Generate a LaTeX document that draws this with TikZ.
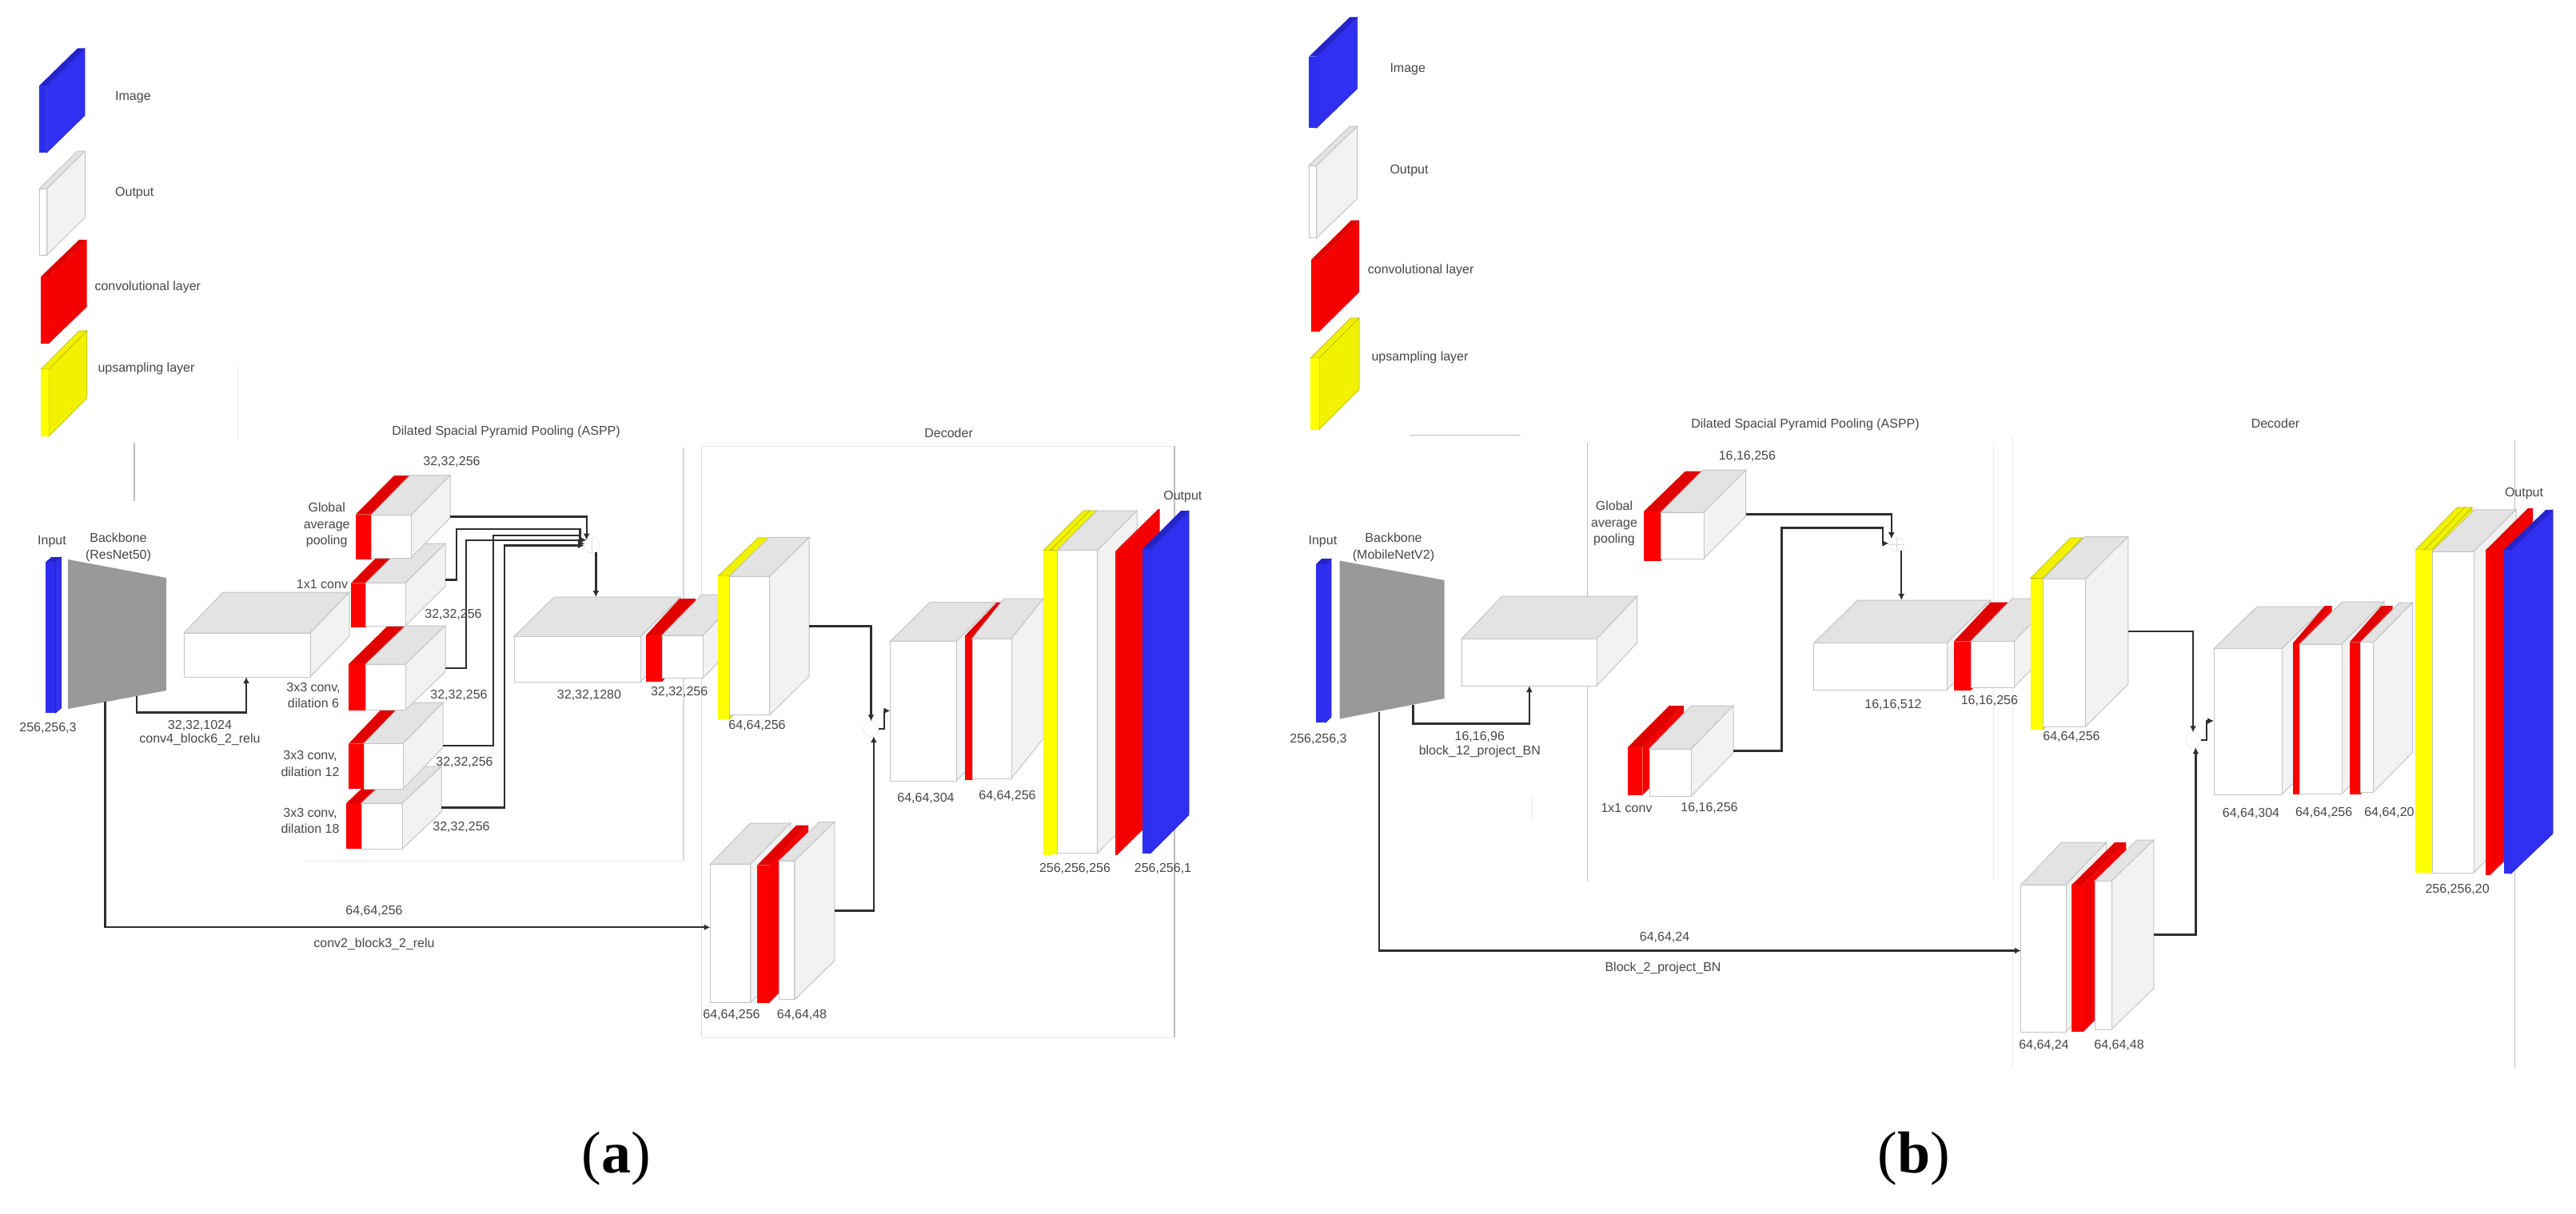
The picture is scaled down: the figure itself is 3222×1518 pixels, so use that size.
\documentclass[tikz,border=0pt]{standalone}
\usepackage{fontspec}
\setmainfont{Liberation Sans}
\newfontfamily\capfont{Liberation Serif}
\usepackage{xcolor}
\usetikzlibrary{arrows.meta,positioning}
\definecolor{gTop}{HTML}{E3E3E3}
\definecolor{gSide}{HTML}{F2F2F2}
\definecolor{gEdge}{HTML}{C4C4C4}
\definecolor{gLine}{HTML}{BDBDBD}
\definecolor{gBack}{HTML}{999999}
\definecolor{rFront}{HTML}{FF0000}
\definecolor{rSide}{HTML}{F40000}
\definecolor{rTop}{HTML}{E00000}
\definecolor{yFront}{HTML}{FFFF00}
\definecolor{ySide}{HTML}{F2F200}
\definecolor{bFront}{HTML}{2E2EF0}
\definecolor{bSide}{HTML}{3030F2}
\definecolor{bTop}{HTML}{2424C8}
\tikzset{
  boxfront/.style={fill=white, draw=gEdge, line width=1pt},
  boxtop/.style={fill=gTop, draw=gEdge, line width=1pt},
  boxside/.style={fill=gSide, draw=gEdge, line width=1pt},
  redfront/.style={fill=rFront},
  redtop/.style={fill=rTop},
  redside/.style={fill=rSide},
  yellowfront/.style={fill=yFront},
  yellowtop/.style={fill=ySide, draw=ySide!75!black, line width=.6pt},
  yellowside/.style={fill=ySide, draw=ySide!75!black, line width=.6pt},
  bluefront/.style={fill=bFront},
  bluetop/.style={fill=bTop},
  blueside/.style={fill=bSide, draw=bTop, line width=.8pt},
  area/.style={inner sep=0pt, outer sep=0pt, anchor=north west},
  lbl/.style={font=\fontsize{16}{20.5}\selectfont, text=black!72, align=center, inner sep=0pt},
  leglbl/.style={lbl, anchor=west, yshift=-2pt},
  sumnode/.style={circle, draw=gray!30, fill=white, minimum size=19pt, inner sep=0pt},
  link/.style={line width=2.3pt, draw=black!82},
  arrow/.style={link, -{Latex[length=8pt,width=8pt]}},
  frameline/.style={line width=1.2pt, draw=gLine},
  fadeline/.style={line width=1pt, draw=gray!18},
  captxt/.style={font=\capfont\fontsize{74}{80}\selectfont, inner sep=0pt}
}
% name, x, y, width, height, dx, dy, kind
\newcommand{\layerblock}[8]{
  \path[#8top] (#2,#3) -- ++(#6,-#7) -- ++(#4,0) -- ++(-#6,#7) -- cycle;
  \path[#8side] (#2+#4,#3) -- ++(#6,-#7) -- ++(0,#5) -- ++(-#6,#7) -- cycle;
  \path[#8front] (#2,#3) rectangle ++(#4,#5);
  \node[area, minimum width={(#4+#6)*1pt}, minimum height={(#5+#7)*1pt}] (#1) at (#2,#3-#7) {};
}
\begin{document}
\begin{tikzpicture}[x=1pt,y=-1pt]
  \useasboundingbox (0,0) rectangle (3222,1518);
  \fill[white] (0,0) rectangle (3222,1518);

  % (a) frame lines
  \coordinate (fa1) at (168,554); \coordinate (fa2) at (168,627);
  \draw[fadeline] (297.5,459) -- (297.5,551);
  \draw[frameline] (fa1) -- (fa2);
  \draw[fadeline] (379,1077) -- (855,1077);
  \draw[frameline, draw=gray!30] (855,560) -- (855,1077);
  \draw[frameline, draw=gray!30] (877.5,558) -- (877.5,1298);
  \draw[fadeline] (877.5,558) -- (1469,558);
  \draw[fadeline] (877.5,1298) -- (1469,1298);
  \draw[frameline] (1469,558) -- (1469,1298);

  % (a) legend
  \layerblock{legImgA}{49.3}{107}{9}{84}{47.7}{46.6}{blue}
  \layerblock{legOutA}{49.3}{236}{9.5}{83}{47.7}{47}{box}
  \layerblock{legConvA}{51.3}{346}{9.7}{84}{47.7}{46}{red}
  \layerblock{legUpA}{51.3}{462}{9.7}{84}{47.7}{48}{yellow}
  \node[leglbl] (txtImgA) at (144,119.6) {Image};
  \node[leglbl] (txtOutA) at (144,239.6) {Output};
  \node[leglbl] (txtConvA) at (118.3,357) {convolutional layer};
  \node[leglbl] (txtUpA) at (122.3,459) {upsampling layer};

  % (a) backbone
  \layerblock{inA}{57.4}{703}{12}{189}{7}{6}{blue}
  \fill[gBack] (85,700) -- (208,723) -- (208,864) -- (85,887) -- cycle;
  \coordinate (tapA) at (171,871);
  \coordinate (skipA) at (131.5,878);
  \layerblock{cutA}{230}{792}{158}{55}{49}{51}{box}

  % (a) ASPP
  \layerblock{rD18A}{433}{1005}{19}{57}{49}{46}{red}
  \layerblock{d18A}{452}{1005}{51}{57}{49}{46}{box}
  \layerblock{rD12A}{436}{930.5}{19}{56.5}{49}{51.5}{red}
  \layerblock{d12A}{455}{930.5}{49}{56.5}{50}{51.5}{box}
  \layerblock{rD6A}{436}{831}{21.5}{57.5}{49}{48}{red}
  \layerblock{d6A}{457.5}{831}{49.5}{57.5}{50}{48}{box}
  \layerblock{rOneA}{439}{729.6}{18.5}{55.4}{49}{49.6}{red}
  \layerblock{oneA}{457.5}{729.6}{49.5}{53.4}{50}{49.6}{box}
  \layerblock{rGapA}{445}{643.5}{19}{56.5}{48}{48.5}{red}
  \layerblock{gapA}{464}{644.7}{50}{53.3}{49}{50}{box}
  \layerblock{concatA}{643}{796.6}{158}{56.4}{50}{49.6}{box}
  \layerblock{rOutA}{808}{795}{20}{58}{42}{46}{red}
  \layerblock{aspOutA}{828}{795}{51}{53.5}{50}{51}{box}
  \node[sumnode] (sumA) at (740.5,682.5) {};
  \draw[gray!30, line width=.8pt] (sumA.north) -- (sumA.south);

  % (a) decoder
  \layerblock{upOneA}{898}{721}{14.4}{178.5}{50}{48}{yellow}
  \layerblock{upBoxA}{912.4}{721}{50.3}{173.6}{49.5}{48.6}{box}
  \layerblock{lowA}{888.5}{1081}{50.3}{173.5}{50}{51}{box}
  \layerblock{rLowA}{947}{1082.6}{15}{172.4}{49}{50}{red}
  \layerblock{lowTwoA}{974.6}{1077}{19.2}{173.7}{50}{48.5}{box}
  \layerblock{catA}{1113.4}{802.4}{82.6}{174.6}{49.6}{48.7}{box}
  \layerblock{rCatA}{1207}{795.4}{9}{180.6}{40}{41.7}{red}
  \layerblock{catTwoA}{1216}{799}{49}{175}{40}{50}{box}
  \node[sumnode] (sumB) at (1089.5,912) {};
  \layerblock{upTwoA}{1305}{688.6}{9}{381.4}{50}{49.6}{yellow}
  \layerblock{upTwoBisA}{1314}{688.6}{8.5}{380}{49}{49.6}{yellow}
  \layerblock{finalA}{1322.5}{688.6}{50.2}{379}{49.3}{49.6}{box}
  \layerblock{rFinalA}{1395}{689.7}{2}{380.3}{53.7}{52.7}{red}
  \layerblock{blueOutA}{1429}{687}{10}{380.5}{48}{48}{blue}

  % (a) connectors
  \draw[arrow] (gapA.east) -| (sumA.135);
  \draw[arrow] ([yshift=6pt]oneA.east) -- ++(14,0) |- ([shift={(-15,-20.5)}]sumA.center) |- (sumA.165);
  \draw[arrow] (d6A.east) -- ++(26,0) |- (sumA.135);
  \draw[arrow] (d12A.east) -- ++(63,0) |- ([shift={(-15,-12.5)}]sumA.center) |- (sumA.165);
  \draw[arrow] (d18A.east) -- ++(79,0) |- (sumA.west);
  \draw[arrow] (sumA.-60) -- (sumA.-60 |- concatA.north);
  \draw[arrow] (tapA) |- ([shift={(-25.5,44.5)}]cutA.south) -- ([xshift=-25.5pt]cutA.south);
  \draw[arrow] (skipA) |- ([shift={(0,18)}]lowA.west);
  \draw[arrow] (upBoxA.east) -| (sumB.north);
  \draw[arrow] (lowTwoA.east) -| (sumB.-70);
  \draw[arrow] (sumB.east) -- ++(7,0) |- ([shift={(0,24)}]catA.west);

  % (a) labels
  \node[lbl] (inTxtA) at (65,678) {Input};
  \node[lbl] (backTxtA) at (148,685) {Backbone\\(ResNet50)};
  \node[lbl] (inDimA) at (60,910.6) {256,256,3};
  \node[lbl] (cutDimA) at (250,908) {32,32,1024};
  \node[lbl] (cutTxtA) at (250,925) {conv4\_block6\_2\_relu};
  \node[lbl] (asppTxtA) at (633,540) {Dilated Spacial Pyramid Pooling (ASPP)};
  \node[lbl] (gapDimA) at (565,577.7) {32,32,256};
  \node[lbl] (gapTxtA) at (408.7,657) {Global\\average\\pooling};
  \node[lbl] (oneTxtA) at (403,731.5) {1x1 conv};
  \node[lbl] (oneDimA) at (567,769) {32,32,256};
  \node[lbl] (d6TxtA) at (392,870) {3x3 conv,\\dilation 6};
  \node[lbl] (d6DimA) at (574,869.7) {32,32,256};
  \node[lbl] (d12TxtA) at (388,955.4) {3x3 conv,\\dilation 12};
  \node[lbl] (d12DimA) at (581,953.5) {32,32,256};
  \node[lbl] (d18TxtA) at (388,1027) {3x3 conv,\\dilation 18};
  \node[lbl] (d18DimA) at (577,1035) {32,32,256};
  \node[lbl] (concatDimA) at (737,869.7) {32,32,1280};
  \node[lbl] (aspOutDimA) at (849.6,866) {32,32,256};
  \node[lbl] (decTxtA) at (1186.6,542) {Decoder};
  \node[lbl] (upDimA) at (947,907.6) {64,64,256};
  \node[lbl] (catDimA) at (1158,998.6) {64,64,304};
  \node[lbl] (catTwoDimA) at (1260,996) {64,64,256};
  \node[lbl] (finalDimA) at (1344.5,1086.5) {256,256,256};
  \node[lbl] (blueDimA) at (1454.5,1086.5) {256,256,1};
  \node[lbl] (outTxtA) at (1479.4,621.4) {Output};
  \node[lbl] (lowDimA) at (915,1269.7) {64,64,256};
  \node[lbl] (lowTwoDimA) at (1003,1269.7) {64,64,48};
  \node[lbl] (skipDimA) at (468,1140) {64,64,256};
  \node[lbl] (skipTxtA) at (468,1181) {conv2\_block3\_2\_relu};

  % (b) frame lines
  \draw[frameline] (1763,544.6) -- (1902,544.6);
  \draw[fadeline] (1916,997) -- (1916,1027);
  \draw[frameline] (1985.7,553.7) -- (1985.7,1103);
  \draw[fadeline] (2493.5,553) -- (2493.5,1102);
  \draw[fadeline] (2517.5,545) -- (2517.5,1336);
  \draw[frameline] (3145.6,551) -- (3145.6,1336);

  % (b) legend
  \layerblock{legImgB}{1637.3}{70.7}{9.4}{89.3}{51}{49.3}{blue}
  \layerblock{legOutB}{1637.3}{207}{9.4}{90.5}{51}{49}{box}
  \layerblock{legConvB}{1640}{325}{10}{90}{50}{49.3}{red}
  \layerblock{legUpB}{1639.3}{448}{10.7}{89.5}{50}{50}{yellow}
  \node[leglbl] (txtImgB) at (1738.3,84.6) {Image};
  \node[leglbl] (txtOutB) at (1738.3,211.4) {Output};
  \node[leglbl] (txtConvB) at (1710.7,336.8) {convolutional layer};
  \node[leglbl] (txtUpB) at (1715.3,445.4) {upsampling layer};

  % (b) backbone
  \layerblock{inB}{1646}{706}{12}{198}{7}{7}{blue}
  \fill[gBack] (1675.7,701.5) -- (1806.6,726) -- (1806.6,874) -- (1675.7,899.5) -- cycle;
  \coordinate (tapB) at (1767.5,882);
  \coordinate (skipB) at (1725,891);
  \layerblock{cutB}{1828}{799.5}{169}{58.5}{50.7}{53.5}{box}

  % (b) ASPP
  \layerblock{rGapB}{2056}{640}{21.5}{61.5}{52}{50.5}{red}
  \layerblock{gapB}{2077.5}{641}{53.5}{58}{52.7}{53}{box}
  \layerblock{rOneB}{2036}{935}{18.4}{60}{51.7}{52}{red}
  \layerblock{oneB}{2063}{937}{52.4}{59}{52.6}{54}{box}
  \layerblock{concatB}{2268.7}{804.5}{166.3}{58.5}{54.7}{53.5}{box}
  \layerblock{rOutB}{2443.8}{802.5}{21.2}{61.5}{46}{49}{red}
  \layerblock{aspOutB}{2465}{802.5}{54}{57.5}{52}{53.5}{box}
  \node[sumnode] (sumC) at (2372,681.6) {};
  \draw[gray!30, line width=.8pt] (sumC.north) -- (sumC.south) (sumC.west) -- (sumC.east);

  % (b) decoder
  \layerblock{upOneB}{2539.7}{723.5}{15.3}{189.5}{50}{50.5}{yellow}
  \layerblock{upBoxB}{2555}{724.5}{53.6}{184.5}{53.2}{53}{box}
  \layerblock{lowB}{2527.8}{1107}{56.2}{184}{50.7}{53}{box}
  \layerblock{rLowB}{2591.4}{1107}{14.3}{184}{53.7}{53}{red}
  \layerblock{lowTwoB}{2620}{1102.5}{21}{185.5}{52.8}{51.5}{box}
  \layerblock{catB}{2769}{811.7}{85}{182.3}{54}{52.7}{box}
  \layerblock{rCatB}{2867.7}{805}{8.9}{189}{40}{47}{red}
  \layerblock{catTwoB}{2876.6}{806}{52.4}{187}{53}{53}{box}
  \layerblock{rCatTwoB}{2938.7}{803.6}{13.8}{190.4}{40}{45.6}{red}
  \layerblock{catThreeB}{2952.5}{803.6}{16.2}{187.4}{48.8}{49.6}{box}
  \node[sumnode] (sumD) at (2743,926) {};
  \layerblock{upTwoB}{3021.4}{687.8}{11.3}{404.2}{52}{53}{yellow}
  \layerblock{upTwoBisB}{3032.7}{687.8}{9.3}{404.2}{50}{53}{yellow}
  \layerblock{finalB}{3042}{690}{52}{402}{53}{52.2}{box}
  \layerblock{rFinalB}{3108.6}{688.8}{6}{406.2}{53.4}{53}{red}
  \layerblock{blueOutB}{3132}{687.8}{8.6}{405.2}{52.4}{50}{blue}

  % (b) connectors
  \draw[arrow] (gapB.east) -| (sumC.130);
  \draw[arrow] (oneB.east) -- ++(60.5,0) |- ([shift={(-17,-21)}]sumC.center) |- (sumC.170);
  \draw[arrow] (sumC.-50) -- (sumC.-50 |- concatB.north);
  \draw[arrow] (tapB) |- ([shift={(-25,47.5)}]cutB.south) -- ([xshift=-25pt]cutB.south);
  \draw[arrow] (skipB) |- ([shift={(0,17)}]lowB.west);
  \draw[arrow] (upBoxB.east) -| (sumD.north);
  \draw[arrow] (lowTwoB.east) -| (sumD.-70);
  \draw[arrow] (sumD.east) -- ++(7,0) |- ([shift={(0,25.5)}]catB.west);

  % (b) labels
  \node[lbl] (inTxtB) at (1654.4,678) {Input};
  \node[lbl] (backTxtB) at (1743,685) {Backbone\\(MobileNetV2)};
  \node[lbl] (inDimB) at (1649,925) {256,256,3};
  \node[lbl] (cutDimB) at (1850.8,922) {16,16,96};
  \node[lbl] (cutTxtB) at (1850.8,940) {block\_12\_project\_BN};
  \node[lbl] (asppTxtB) at (2258,531) {Dilated Spacial Pyramid Pooling (ASPP)};
  \node[lbl] (gapDimB) at (2185.4,571) {16,16,256};
  \node[lbl] (gapTxtB) at (2019,655) {Global\\average\\pooling};
  \node[lbl] (oneTxtB) at (2034.5,1011) {1x1 conv};
  \node[lbl] (oneDimB) at (2138,1011) {16,16,256};
  \node[lbl] (concatDimB) at (2368,882) {16,16,512};
  \node[lbl] (aspOutDimB) at (2488.4,877) {16,16,256};
  \node[lbl] (decTxtB) at (2846,530) {Decoder};
  \node[lbl] (upDimB) at (2591,922.4) {64,64,256};
  \node[lbl] (catDimB) at (2815.5,1018) {64,64,304};
  \node[lbl] (catTwoDimB) at (2906.6,1017) {64,64,256};
  \node[lbl] (catThreeDimB) at (2988.4,1017) {64,64,20};
  \node[lbl] (finalDimB) at (3073.6,1112.7) {256,256,20};
  \node[lbl] (outTxtB) at (3157,618) {Output};
  \node[lbl] (lowDimB) at (2556.4,1307.6) {64,64,24};
  \node[lbl] (lowTwoDimB) at (2650.5,1307.6) {64,64,48};
  \node[lbl] (skipDimB) at (2082,1172.6) {64,64,24};
  \node[lbl] (skipTxtB) at (2080,1211.4) {Block\_2\_project\_BN};

  % captions
  \node[captxt] (capA) at (771,1450) {(\textbf{a})};
  \node[captxt] (capB) at (2394,1450) {(\textbf{b})};
\end{tikzpicture}
\end{document}
